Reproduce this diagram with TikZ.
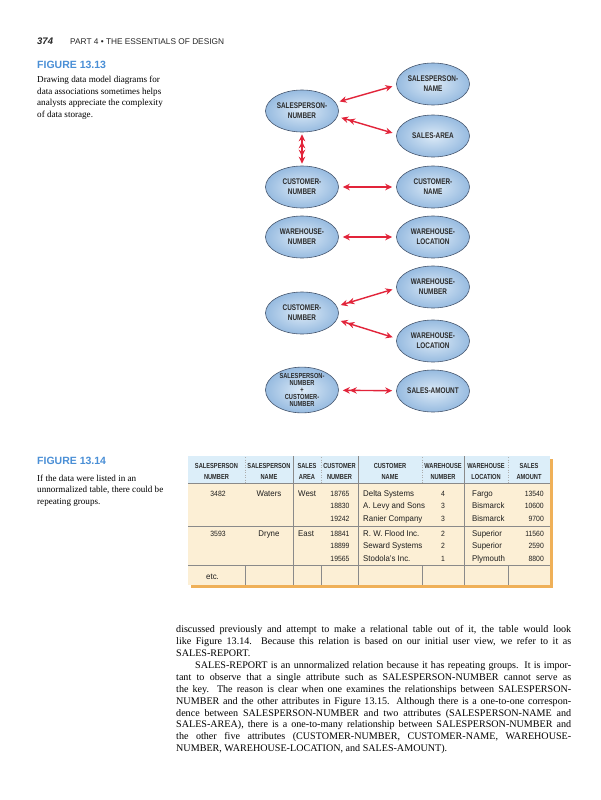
\documentclass[tikz,border=0pt]{standalone}
\usepackage{fontspec}
\setmainfont{Liberation Serif}
\newfontfamily\hdfont{Liberation Sans}
\newfontfamily\condfont[FakeStretch=0.78]{Liberation Sans Bold}
\newfontfamily\bodyfont[FakeStretch=0.95]{Liberation Sans}
\newfontfamily\digfont[FakeStretch=0.9]{Liberation Sans}
\usetikzlibrary{shapes.geometric,arrows.meta}
\definecolor{figblue}{HTML}{4A8FD6}
\definecolor{arrred}{HTML}{E2243A}
\definecolor{ellin}{HTML}{DCEAF7}
\definecolor{ellout}{HTML}{97BBE0}
\definecolor{elldraw}{HTML}{46566E}
\definecolor{hdrc}{HTML}{DCEEF9}
\definecolor{bodyc}{HTML}{FCEFD5}
\definecolor{shadowc}{HTML}{EFB058}
\definecolor{gridc}{HTML}{8A8A8A}
\definecolor{elltext}{HTML}{2A2A2A}
\definecolor{tbltext}{HTML}{1E1E1E}
\newcommand\tnum{\digfont\fontsize{7.6}{9}\selectfont}
\newcommand\ttxt{\bodyfont\fontsize{8.3}{10}\selectfont}
\begin{document}
\begin{tikzpicture}[x=1pt,y=-1pt,
  >={Stealth[length=7pt,width=6.5pt]},
  ell/.style={ellipse, draw=elldraw, line width=0.6pt, inner color=ellin, outer color=ellout,
    minimum width=73pt, minimum height=42pt, inner sep=0pt, align=center,
    font=\condfont\fontsize{8.2}{10}\selectfont, text=elltext},
  arr/.style={draw=arrred, line width=1.4pt, shorten <=4pt, shorten >=4pt},
  ptxt/.style={anchor=base west, inner sep=0pt},
  captxt/.style={ptxt, font=\fontsize{9.1}{11}\selectfont},
  figt/.style={ptxt, font=\hdfont\bfseries\fontsize{10.5}{12}\selectfont, text=figblue},
  partxt/.style={ptxt, font=\fontsize{10.1}{12}\selectfont},
  hdrtxt/.style={anchor=center, inner sep=0pt, align=center, font=\condfont\fontsize{7.3}{11}\selectfont, text=elltext},
  tcell/.style={anchor=base, inner sep=0pt, text=tbltext},
  lcell/.style={anchor=base west, inner sep=0pt, text=tbltext},
  rcell/.style={anchor=base east, inner sep=0pt, text=tbltext},
  gridln/.style={draw=gridc, line width=0.5pt},
  minorln/.style={draw=gridc!70, line width=0.5pt, dotted}
]
\useasboundingbox[fill=white] (0,0) rectangle (601,800);

% page header
\node[ptxt, font=\hdfont\bfseries\itshape\fontsize{9.5}{11}\selectfont, text=black!85] (pg) at (37,44.5) {374};
\node[ptxt, font=\hdfont\fontsize{8.3}{10}\selectfont, text=black!85] (part) at (70,44.5) {PART 4 • THE ESSENTIALS OF DESIGN};

% figure 13.13 caption
\node[figt] (f13) at (37,68) {FIGURE 13.13};
\node[captxt] (c1) at (37,82.5) {Drawing data model diagrams for};
\node[captxt] (c2) at (37,94.2) {data associations sometimes helps};
\node[captxt] (c3) at (37,105.9) {analysts appreciate the complexity};
\node[captxt] (c4) at (37,117.6) {of data storage.};

% ellipses
\node[ell] (spnum) at (302,111) {SALESPERSON-\\NUMBER};
\node[ell] (spname) at (433,84) {SALESPERSON-\\NAME};
\node[ell] (sarea) at (433,136) {SALES-AREA};
\node[ell] (cnum) at (302,187) {CUSTOMER-\\NUMBER};
\node[ell] (cname) at (433,187) {CUSTOMER-\\NAME};
\node[ell] (whnum) at (302,237) {WAREHOUSE-\\NUMBER};
\node[ell] (whloc) at (433,237) {WAREHOUSE-\\LOCATION};
\node[ell] (whnumb) at (433,287) {WAREHOUSE-\\NUMBER};
\node[ell] (cnumb) at (302,313) {CUSTOMER-\\NUMBER};
\node[ell] (whlocb) at (433,341) {WAREHOUSE-\\LOCATION};
\node[ell, font=\condfont\fontsize{7.3}{6.8}\selectfont] (combo) at (302,390) {SALESPERSON-\\NUMBER\\+\\CUSTOMER-\\NUMBER};
\node[ell] (samt) at (433,391) {SALES-AMOUNT};

% connectors
\draw[arr,<->] (spnum.14) -- (spname.182);
\draw[arr,<<->] (spnum.-9) -- (sarea.177);
\draw[arr,<<->>, shorten <=2pt, shorten >=2pt] (spnum.south) -- (cnum.north);
\draw[arr,<->] (cnum) -- (cname);
\draw[arr,<->] (whnum) -- (whloc);
\draw[arr,<<->] (cnumb.11) -- (whnumb.182);
\draw[arr,<<->] (cnumb.-11) -- (whlocb.176);
\draw[arr,<<->] (combo) -- (samt);

% figure 13.14 caption
\node[figt] (f14) at (37,464) {FIGURE 13.14};
\node[captxt] (d1) at (37,481) {If the data were listed in an};
\node[captxt] (d2) at (37,492.7) {unnormalized table, there could be};
\node[captxt] (d3) at (37,504.4) {repeating groups.};

% table
\fill[shadowc] (191,459) rectangle (553,588);
\fill[hdrc] (188,456) rectangle (550,483);
\fill[bodyc] (188,483) rectangle (550,585);
\foreach \yy in {483,526,565} \draw[gridln] (188,\yy) -- (550,\yy);
\foreach \xx in {293,358,464} \draw[gridln] (\xx,456) -- (\xx,585);
\foreach \xx in {245,321,422,508} {
  \draw[minorln] (\xx,457) -- (\xx,483);
  \draw[gridln] (\xx,565) -- (\xx,585);
}

\node[hdrtxt] (h1) at (216.5,471) {SALESPERSON\\NUMBER};
\node[hdrtxt] (h2) at (269,471) {SALESPERSON\\NAME};
\node[hdrtxt] (h3) at (307,471) {SALES\\AREA};
\node[hdrtxt] (h4) at (339.5,471) {CUSTOMER\\NUMBER};
\node[hdrtxt] (h5) at (390,471) {CUSTOMER\\NAME};
\node[hdrtxt] (h6) at (443,471) {WAREHOUSE\\NUMBER};
\node[hdrtxt] (h7) at (486,471) {WAREHOUSE\\LOCATION};
\node[hdrtxt] (h8) at (529,471) {SALES\\AMOUNT};

% group 1
\node[tcell, font=\tnum] (r1a) at (218,496) {3482};
\node[tcell, font=\ttxt] (r1b) at (269,496) {Waters};
\node[lcell, font=\ttxt] (r1c) at (298,496) {West};
\node[tcell, font=\tnum] (r1d) at (340,496) {18765};
\node[lcell, font=\ttxt] (r1e) at (363,496) {Delta Systems};
\node[tcell, font=\tnum] (r1f) at (443,496) {4};
\node[lcell, font=\ttxt] (r1g) at (472,496) {Fargo};
\node[rcell, font=\tnum] (r1h) at (544,496) {13540};

\node[tcell, font=\tnum] (r2d) at (340,508.5) {18830};
\node[lcell, font=\ttxt] (r2e) at (363,508.5) {A. Levy and Sons};
\node[tcell, font=\tnum] (r2f) at (443,508.5) {3};
\node[lcell, font=\ttxt] (r2g) at (472,508.5) {Bismarck};
\node[rcell, font=\tnum] (r2h) at (544,508.5) {10600};

\node[tcell, font=\tnum] (r3d) at (340,521) {19242};
\node[lcell, font=\ttxt] (r3e) at (363,521) {Ranier Company};
\node[tcell, font=\tnum] (r3f) at (443,521) {3};
\node[lcell, font=\ttxt] (r3g) at (472,521) {Bismarck};
\node[rcell, font=\tnum] (r3h) at (544,521) {9700};

% group 2
\node[tcell, font=\tnum] (r4a) at (218,536) {3593};
\node[tcell, font=\ttxt] (r4b) at (269,536) {Dryne};
\node[lcell, font=\ttxt] (r4c) at (298,536) {East};
\node[tcell, font=\tnum] (r4d) at (340,536) {18841};
\node[lcell, font=\ttxt] (r4e) at (363,536) {R. W. Flood Inc.};
\node[tcell, font=\tnum] (r4f) at (443,536) {2};
\node[lcell, font=\ttxt] (r4g) at (472,536) {Superior};
\node[rcell, font=\tnum] (r4h) at (544,536) {11560};

\node[tcell, font=\tnum] (r5d) at (340,548.5) {18899};
\node[lcell, font=\ttxt] (r5e) at (363,548.5) {Seward Systems};
\node[tcell, font=\tnum] (r5f) at (443,548.5) {2};
\node[lcell, font=\ttxt] (r5g) at (472,548.5) {Superior};
\node[rcell, font=\tnum] (r5h) at (544,548.5) {2590};

\node[tcell, font=\tnum] (r6d) at (340,561) {19565};
\node[lcell, font=\ttxt] (r6e) at (363,561) {Stodola’s Inc.};
\node[tcell, font=\tnum] (r6f) at (443,561) {1};
\node[lcell, font=\ttxt] (r6g) at (472,561) {Plymouth};
\node[rcell, font=\tnum] (r6h) at (544,561) {8800};

\node[lcell, font=\ttxt] (etc) at (206,579) {etc.};

% body paragraph
\node[partxt] (p1) at (176,632.7) {\makebox[395pt][s]{discussed previously and attempt to make a relational table out of it, the table would look}};
\node[partxt] (p2) at (176,644.6) {\makebox[395pt][s]{like Figure 13.14. Because this relation is based on our initial user view, we refer to it as}};
\node[partxt] (p3) at (176,656.5) {SALES-REPORT.};
\node[partxt] (p4) at (195,668.4) {\makebox[376pt][s]{SALES-REPORT is an unnormalized relation because it has repeating groups. It is impor-}};
\node[partxt] (p5) at (176,680.3) {\makebox[395pt][s]{tant to observe that a single attribute such as SALESPERSON-NUMBER cannot serve as}};
\node[partxt] (p6) at (176,692.2) {\makebox[395pt][s]{the key. The reason is clear when one examines the relationships between SALESPERSON-}};
\node[partxt] (p7) at (176,704.1) {\makebox[395pt][s]{NUMBER and the other attributes in Figure 13.15. Although there is a one-to-one correspon-}};
\node[partxt] (p8) at (176,716) {\makebox[395pt][s]{dence between SALESPERSON-NUMBER and two attributes (SALESPERSON-NAME and}};
\node[partxt] (p9) at (176,727.9) {\makebox[395pt][s]{SALES-AREA), there is a one-to-many relationship between SALESPERSON-NUMBER and}};
\node[partxt] (p10) at (176,739.8) {\makebox[395pt][s]{the other five attributes (CUSTOMER-NUMBER, CUSTOMER-NAME, WAREHOUSE-}};
\node[partxt] (p11) at (176,751.7) {NUMBER, WAREHOUSE-LOCATION, and SALES-AMOUNT).};
\end{tikzpicture}
\end{document}
